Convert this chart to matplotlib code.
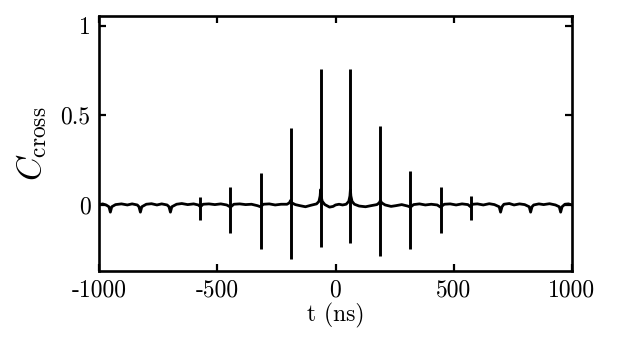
import matplotlib
matplotlib.use("Agg")
from matplotlib import pyplot as plt

# spikes of the cross-correlation (ns, peak top, peak bottom)
spike_t = [-571, -444, -317, -190, -63, 63, 190, 317, 444, 571]
spike_top = [0.045, 0.10, 0.18, 0.43, 0.76, 0.76, 0.44, 0.19, 0.10, 0.05]
spike_bottom = [-0.085, -0.155, -0.245, -0.30, -0.235, -0.21, -0.285, -0.245, -0.155, -0.085]

# baseline trace
base_t = [-1000, -985, -970, -958, -952, -946, -930, -905, -880, -860,
          -838, -831, -825, -819, -800, -778, -755, -735, -712, -704,
          -698, -692, -672, -650, -625, -600, -580, -571, -560, -535,
          -510, -485, -460, -444, -430, -405, -380, -355, -330, -317,
          -305, -280, -255, -230, -205, -195, -190, -185, -170, -150,
          -127, -105, -80, -70, -65, -63, -61, -56, -45, -25,
          -10, 0, 15, 30, 45, 56, 61, 63, 65, 70,
          80, 100, 127, 150, 175, 185, 190, 195, 210, 235,
          255, 280, 305, 317, 330, 355, 380, 405, 430, 444,
          460, 485, 510, 535, 560, 571, 580, 600, 625, 650,
          672, 692, 698, 704, 712, 735, 755, 778, 800, 819,
          825, 831, 838, 860, 880, 905, 930, 946, 952, 958,
          970, 985, 1000]
base_y = [0.0, 0.006, 0.0, -0.01, -0.04, -0.01, 0.002, 0.006, 0.0, 0.006,
          0.0, -0.01, -0.04, -0.01, 0.004, 0.007, 0.0, 0.006, 0.0, -0.01,
          -0.04, -0.01, 0.004, 0.008, 0.002, 0.006, 0.0, -0.01, 0.004, 0.006,
          0.002, 0.006, 0.0, -0.012, 0.004, 0.006, 0.002, 0.004, -0.004, -0.01,
          0.004, 0.006, 0.0, 0.004, 0.004, 0.012, 0.025, 0.012, 0.002, -0.004,
          -0.01, -0.002, 0.006, 0.02, 0.05, 0.085, 0.05, 0.02, 0.002, -0.012,
          -0.008, 0.0, 0.004, 0.0, 0.004, 0.02, 0.05, 0.085, 0.05, 0.02,
          0.004, -0.006, -0.01, -0.004, 0.002, 0.012, 0.025, 0.012, 0.0, -0.008,
          -0.004, 0.002, -0.006, -0.012, 0.002, 0.006, 0.0, 0.004, 0.0, -0.012,
          0.004, 0.006, 0.0, 0.006, 0.002, -0.01, 0.004, 0.006, 0.0, 0.007,
          0.002, -0.01, -0.04, -0.01, 0.004, 0.008, 0.0, 0.006, 0.002, -0.01,
          -0.04, -0.01, 0.0, 0.006, 0.002, 0.007, 0.0, -0.01, -0.04, -0.01,
          0.004, 0.006, 0.0]

x_ticks = [-1000, -500, 0, 500, 1000]
x_labels = ["-1000", "-500", "0", "500", "1000"]
y_ticks = [0, 0.5, 1]
y_labels = ["0", "0.5", "1"]

plt.rcParams["font.family"] = "cmr10"
plt.rcParams["mathtext.fontset"] = "cm"
plt.rcParams["axes.unicode_minus"] = False

fig = plt.figure(figsize=(6.23, 3.40), dpi=100)
ax = fig.add_axes([99/623, 1 - 271/340, 473/623, 255/340])

ax.plot(base_t, base_y, color="black", linewidth=2.0, solid_joinstyle="round")
ax.vlines(spike_t, spike_bottom, spike_top, color="black", linewidth=2.1)

ax.set_xlim(-1000, 1000)
ax.set_ylim(-0.368, 1.053)
ax.set_xticks(x_ticks)
ax.set_xticklabels(x_labels)
ax.set_yticks(y_ticks)
ax.set_yticklabels(y_labels)
ax.tick_params(direction="in", length=5, width=1.6, labelsize=17,
               top=True, right=True, pad=6)
for s in ax.spines.values():
    s.set_linewidth(1.9)

ax.set_xlabel("t (ns)", fontsize=17, labelpad=1)
ax.set_ylabel(r"$C_{\mathrm{cross}}$", fontsize=24, labelpad=8)

fig.savefig("out.png", dpi=100)
plt.close()
